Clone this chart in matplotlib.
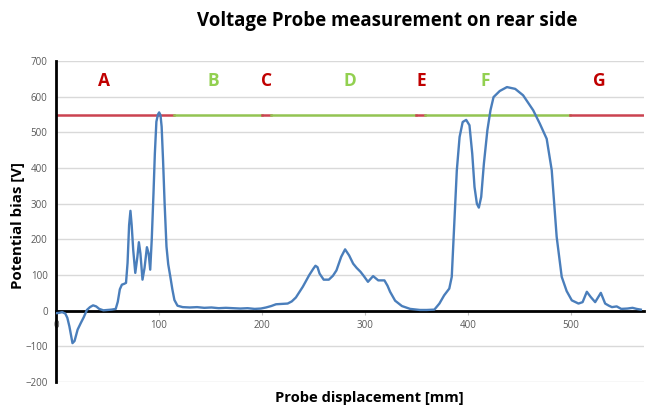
"""
Voltage probe scan along the rear side, Excel-style line chart.
"""

import matplotlib
matplotlib.use("Agg")
import matplotlib.pyplot as plt

# ---------------------------------------------------------------------------
# Data
# ---------------------------------------------------------------------------

displacement_mm = [
    0, 3, 6, 9, 11, 13, 16, 18, 21, 24, 27, 30, 33, 36, 39, 42, 46, 50, 54, 58,
    60, 62, 64, 66, 68, 69.5, 71, 72.3, 73.5, 75, 77, 79, 80.5, 82, 84, 86,
    88.3, 90, 91.5, 93, 94.7, 96, 97.5, 99, 100.2, 101.5, 102.6, 104, 105.5,
    107.3, 109, 111, 113, 115, 118, 123,
    130, 137, 144, 151, 158, 165, 172, 179, 186, 193, 199,
    204, 209, 213.7, 219, 225, 229, 233, 239.7, 246, 250,
    252, 254, 256, 260, 265, 269, 272.4, 277, 280.8, 284.7, 288.6, 292, 295.8,
    299, 303, 308, 313, 319, 322, 324.5, 329.4, 336, 344, 353.6, 360, 367.5,
    372.4, 377, 382, 384.4, 387, 389.3, 392, 395, 398.4, 401.6, 404.3, 406.5,
    408.8, 410.7, 413, 415.6, 419, 422, 425, 431, 438, 446, 453.7, 463.5, 470,
    476.6, 481.5, 486.3, 491.2, 496, 501, 507.5, 511.5, 515.6, 519.5, 523.7,
    529.2, 533.4, 537, 540, 544.6, 549, 555, 560, 564, 568,
]
potential_v = [
    -7, -6, -4, -8, -20, -44, -91, -85, -53, -35, -18, 2, 10, 15, 12, 5, 1, 2,
    3, 5,
    25, 60, 73, 75, 78, 134, 240, 280, 240, 170, 106, 150, 192, 160, 87,
    120, 178, 160, 115, 200, 330, 440, 530, 550, 556, 548, 516, 420, 300, 180,
    130, 96, 60, 30, 14, 10,
    9, 10, 8, 9, 7, 8, 7, 6, 7, 5, 6,
    9, 13, 18, 19, 20, 26, 37, 67, 100, 118,
    126, 122, 104, 87, 87, 98, 113, 151, 172, 155, 132, 120, 109,
    97, 81, 97, 85, 85, 70, 53, 28, 13, 5, 2, 2, 3,
    20, 43, 62, 95, 253, 393, 487, 529, 535, 520, 440, 347,
    300, 289, 319, 412, 506, 562, 599, 616, 627, 622, 604, 562, 524,
    482, 394, 207, 95, 55, 29, 20, 24, 53, 38, 24,
    50, 20, 14, 10, 12, 5, 6, 8, 5, 3,
]

# zone bands drawn at 550 V
zone_edges = [0, 115, 200, 209, 350, 358, 499, 570]
zone_names = ["A", "B", "C", "D", "E", "F", "G"]
zone_label_x = [47, 153, 205, 285, 355, 417, 528]
zone_level = 550
zone_label_y = 645

RED_LINE, GREEN_LINE = "#CB4350", "#93C452"
RED_TEXT, GREEN_TEXT = "#C00000", "#92D050"

# ---------------------------------------------------------------------------
# Plot
# ---------------------------------------------------------------------------

plt.rcParams["font.family"] = ["Open Sans", "DejaVu Sans"]

fig = plt.figure(figsize=(6.46, 4.07), dpi=100)
ax = fig.add_axes([0.0867, 0.0614, 0.910, 0.7886])

for i, name in enumerate(zone_names):
    red = i % 2 == 0
    ax.plot(zone_edges[i:i + 2], [zone_level, zone_level],
            color=RED_LINE if red else GREEN_LINE, lw=1.8, zorder=2)
    ax.text(zone_label_x[i], zone_label_y, name, ha="center", va="center",
            fontsize=12.5, fontweight="bold",
            color=RED_TEXT if red else GREEN_TEXT)

ax.plot(displacement_mm, potential_v, color="#4A7EBB", lw=1.7, zorder=3)

ax.set_xlim(0, 571)
ax.set_ylim(-200, 700)
ax.set_xticks(range(0, 501, 100))
ax.set_yticks(range(-200, 701, 100))
ax.grid(axis="y", color="#D9D9D9", lw=1)
ax.set_axisbelow(True)

for s in ("top", "right"):
    ax.spines[s].set_visible(False)
ax.spines["left"].set_color("black")
ax.spines["left"].set_linewidth(2)
ax.spines["bottom"].set_position(("data", 0))
ax.spines["bottom"].set_color("black")
ax.spines["bottom"].set_linewidth(2)
ax.spines["bottom"].set_zorder(2.5)
ax.tick_params(axis="both", labelsize=7, labelcolor="#595959",
               color="#BFBFBF")
ax.tick_params(axis="y", length=0, pad=6)
ax.tick_params(axis="x", length=3, pad=4)

fig.text(0.600, 0.948, "Voltage Probe measurement on rear side",
         ha="center", va="center", fontsize=13.4, fontweight="bold")
fig.text(0.028, 0.445, "Potential bias [V]", rotation=90,
         ha="center", va="center", fontsize=10.8, fontweight="bold")
fig.text(0.571, 0.004, "Probe displacement [mm]",
         ha="center", va="bottom", fontsize=10.6, fontweight="bold")

fig.savefig("out.png", dpi=100)
